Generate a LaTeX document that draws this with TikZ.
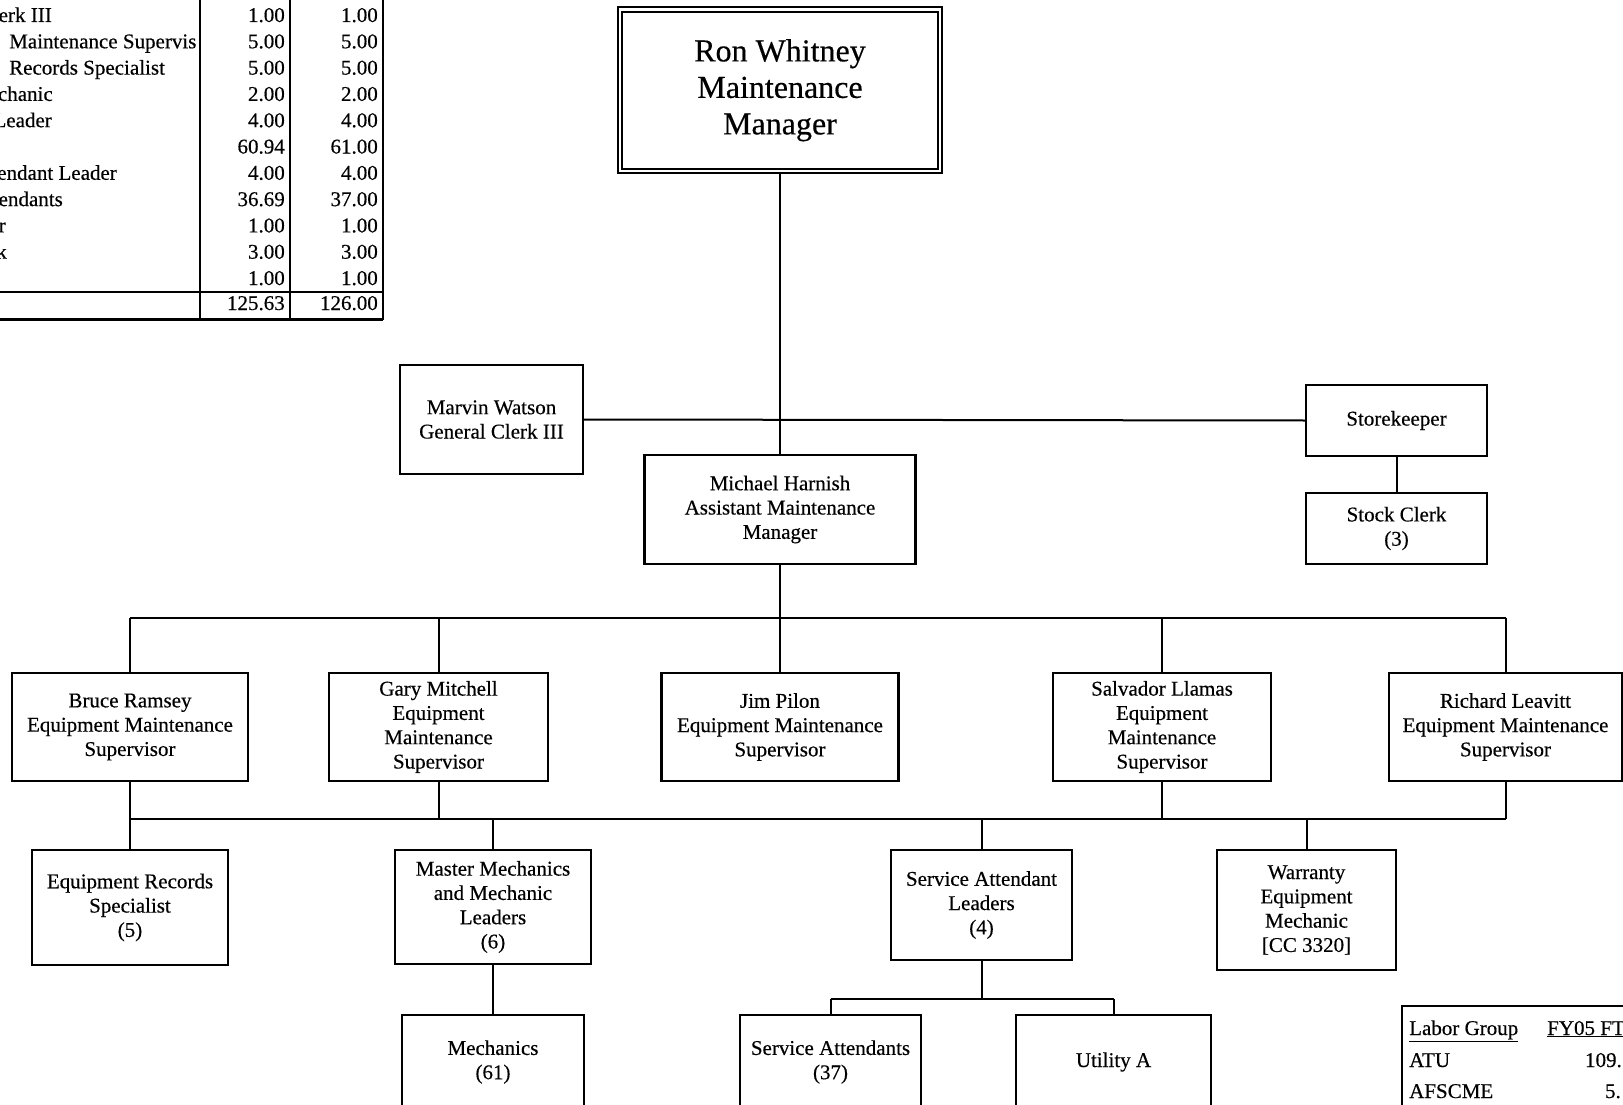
\documentclass[tikz,border=0pt]{standalone}
\usepackage{fontspec}
\setmainfont{Liberation Serif}[FakeBold=0.4]
\newcommand\fsz{\fontsize{21}{24.3}\selectfont}
\newcommand\fbig{\fontsize{32}{36.5}\selectfont}
\begin{document}
\begin{tikzpicture}[x=1pt,y=-1pt,
  box/.style={draw, line width=2.3pt, align=center, inner sep=0pt, font=\fsz},
  conn/.style={line width=2pt},
  tbl/.style={line width=2.2pt},
  tl/.style={inner sep=0pt, font=\fsz}]
\useasboundingbox (0,0) rectangle (1623,1105);
\clip (0,0) rectangle (1623,1105);

% ---------- top-left table ----------
\draw[tbl] (200,0) -- (200,320);
\draw[tbl] (290,0) -- (290,320);
\draw[tbl] (383,0) -- (383,320);
\draw[tbl] (0,292) -- (383,292);
\draw[tbl] (0,319.5) -- (383,319.5);
\node[tl, anchor=base east] (l1) at (52,22) {erk III};
\node[tl, anchor=base west] (l2) at (9,48.3) {Maintenance Supervis};
\node[tl, anchor=base west] (l3) at (9,74.6) {Records Specialist};
\node[tl, anchor=base east] (l4) at (53,100.9) {chanic};
\node[tl, anchor=base east] (l5) at (52,127.2) {Leader};
\node[tl, anchor=base east] (l7) at (117,179.8) {endant Leader};
\node[tl, anchor=base east] (l8) at (63,206.1) {endants};
\node[tl, anchor=base east] (l9) at (6,232.4) {r};
\node[tl, anchor=base east] (l10) at (7,258.7) {k};
\foreach \a/\b [count=\i] in {1.00/1.00,5.00/5.00,5.00/5.00,2.00/2.00,4.00/4.00,60.94/61.00,4.00/4.00,36.69/37.00,1.00/1.00,3.00/3.00,1.00/1.00}{
  \node[tl, anchor=base east] (na\i) at (285,{22+(\i-1)*26.3}) {\a};
  \node[tl, anchor=base east] (nb\i) at (378,{22+(\i-1)*26.3}) {\b};
}
\node[tl, anchor=base east] (ta) at (285,310) {125.63};
\node[tl, anchor=base east] (tb) at (378,310) {126.00};

% ---------- org chart boxes ----------
\node[box, double, double distance=2.8pt, line width=1.9pt,
      minimum width=320pt, minimum height=161.5pt, font=\fbig] (top) at (780,90.25)
      {Ron Whitney\\Maintenance\\Manager};
\node[box, minimum width=183pt, minimum height=109pt] (marvin) at (491.5,419.5)
      {Marvin Watson\\General Clerk III};
\node[box, minimum width=181pt, minimum height=71pt] (store) at (1396.5,420.5)
      {Storekeeper};
\node[box, minimum width=181pt, minimum height=71pt] (stock) at (1396.5,528.5)
      {Stock Clerk\\(3)};
\node[box, minimum width=271pt, minimum height=109pt] (harnish) at (780,509.5)
      {Michael Harnish\\Assistant Maintenance\\Manager};

\node[box, minimum width=236pt, minimum height=108pt] (bruce) at (130,727)
      {Bruce Ramsey\\Equipment Maintenance\\Supervisor};
\node[box, minimum width=219pt, minimum height=108pt] (gary) at (438.5,727)
      {Gary Mitchell\\Equipment\\Maintenance\\Supervisor};
\node[box, minimum width=237pt, minimum height=108pt] (jim) at (780,727)
      {Jim Pilon\\Equipment Maintenance\\Supervisor};
\node[box, minimum width=218pt, minimum height=108pt] (salvador) at (1162,727)
      {Salvador Llamas\\Equipment\\Maintenance\\Supervisor};
\node[box, minimum width=233pt, minimum height=108pt] (richard) at (1505.5,727)
      {Richard Leavitt\\Equipment Maintenance\\Supervisor};

\node[box, minimum width=196pt, minimum height=115pt] (ers) at (130,907.5)
      {Equipment Records\\Specialist\\(5)};
\node[box, minimum width=196pt, minimum height=114pt] (master) at (493,907)
      {Master Mechanics\\and Mechanic\\Leaders\\(6)};
\node[box, minimum width=181pt, minimum height=110pt] (sal) at (981.5,905)
      {Service Attendant\\Leaders\\(4)};
\node[box, minimum width=179pt, minimum height=120pt] (warranty) at (1306.5,910)
      {Warranty\\Equipment\\Mechanic\\{[CC 3320]}};

\node[box, minimum width=182pt, minimum height=94pt] (mech) at (493,1062)
      {Mechanics\\(61)};
\node[box, minimum width=181pt, minimum height=94pt] (sa) at (830.5,1062)
      {Service Attendants\\(37)};
\node[box, minimum width=195pt, minimum height=94pt] (ua) at (1113.5,1062)
      {Utility A};

% ---------- connectors ----------
\draw[conn] (top.south) -- (harnish.north);
\draw[conn] (marvin.east) -- (store.west);
\draw[conn] (store.south) -- (stock.north);

\coordinate (busL) at (130,618);
\coordinate (busR) at (1505.5,618);
\draw[conn] (busL) -- (busR);
\draw[conn] (harnish.south) -- (harnish.south |- busL);
\foreach \n in {bruce,gary,jim,salvador,richard}
  \draw[conn] (\n.north) -- (\n.north |- busL);

\coordinate (bus2L) at (130,819);
\coordinate (bus2R) at (1505.5,819);
\draw[conn] (bus2L) -- (bus2R);
\draw[conn] (bruce.south) -- (ers.north);
\foreach \n in {gary,salvador,richard}
  \draw[conn] (\n.south) -- (\n.south |- bus2L);
\foreach \n in {master,sal,warranty}
  \draw[conn] (\n.north) -- (\n.north |- bus2L);

\draw[conn] (master.south) -- (mech.north);
\coordinate (br) at (981.5,999);
\draw[conn] (sal.south) -- (br);
\draw[conn] (sa.north |- br) -- (ua.north |- br);
\draw[conn] (sa.north |- br) -- (sa.north);
\draw[conn] (ua.north |- br) -- (ua.north);

% ---------- bottom-right table ----------
\draw[tbl] (1623,1006) -- (1402,1006) -- (1402,1105);
\node[tl, anchor=base west] (lg) at (1409,1035) {\underline{Labor Group}};
\node[tl, anchor=base west] (fy) at (1547,1035) {\underline{FY05 FT}};
\node[tl, anchor=base west] (atu) at (1409,1067) {ATU};
\node[tl, anchor=base east] (atuv) at (1622,1067) {109.};
\node[tl, anchor=base west] (afs) at (1409,1098) {AFSCME};
\node[tl, anchor=base east] (afsv) at (1621,1098) {5.};
\end{tikzpicture}
\end{document}
